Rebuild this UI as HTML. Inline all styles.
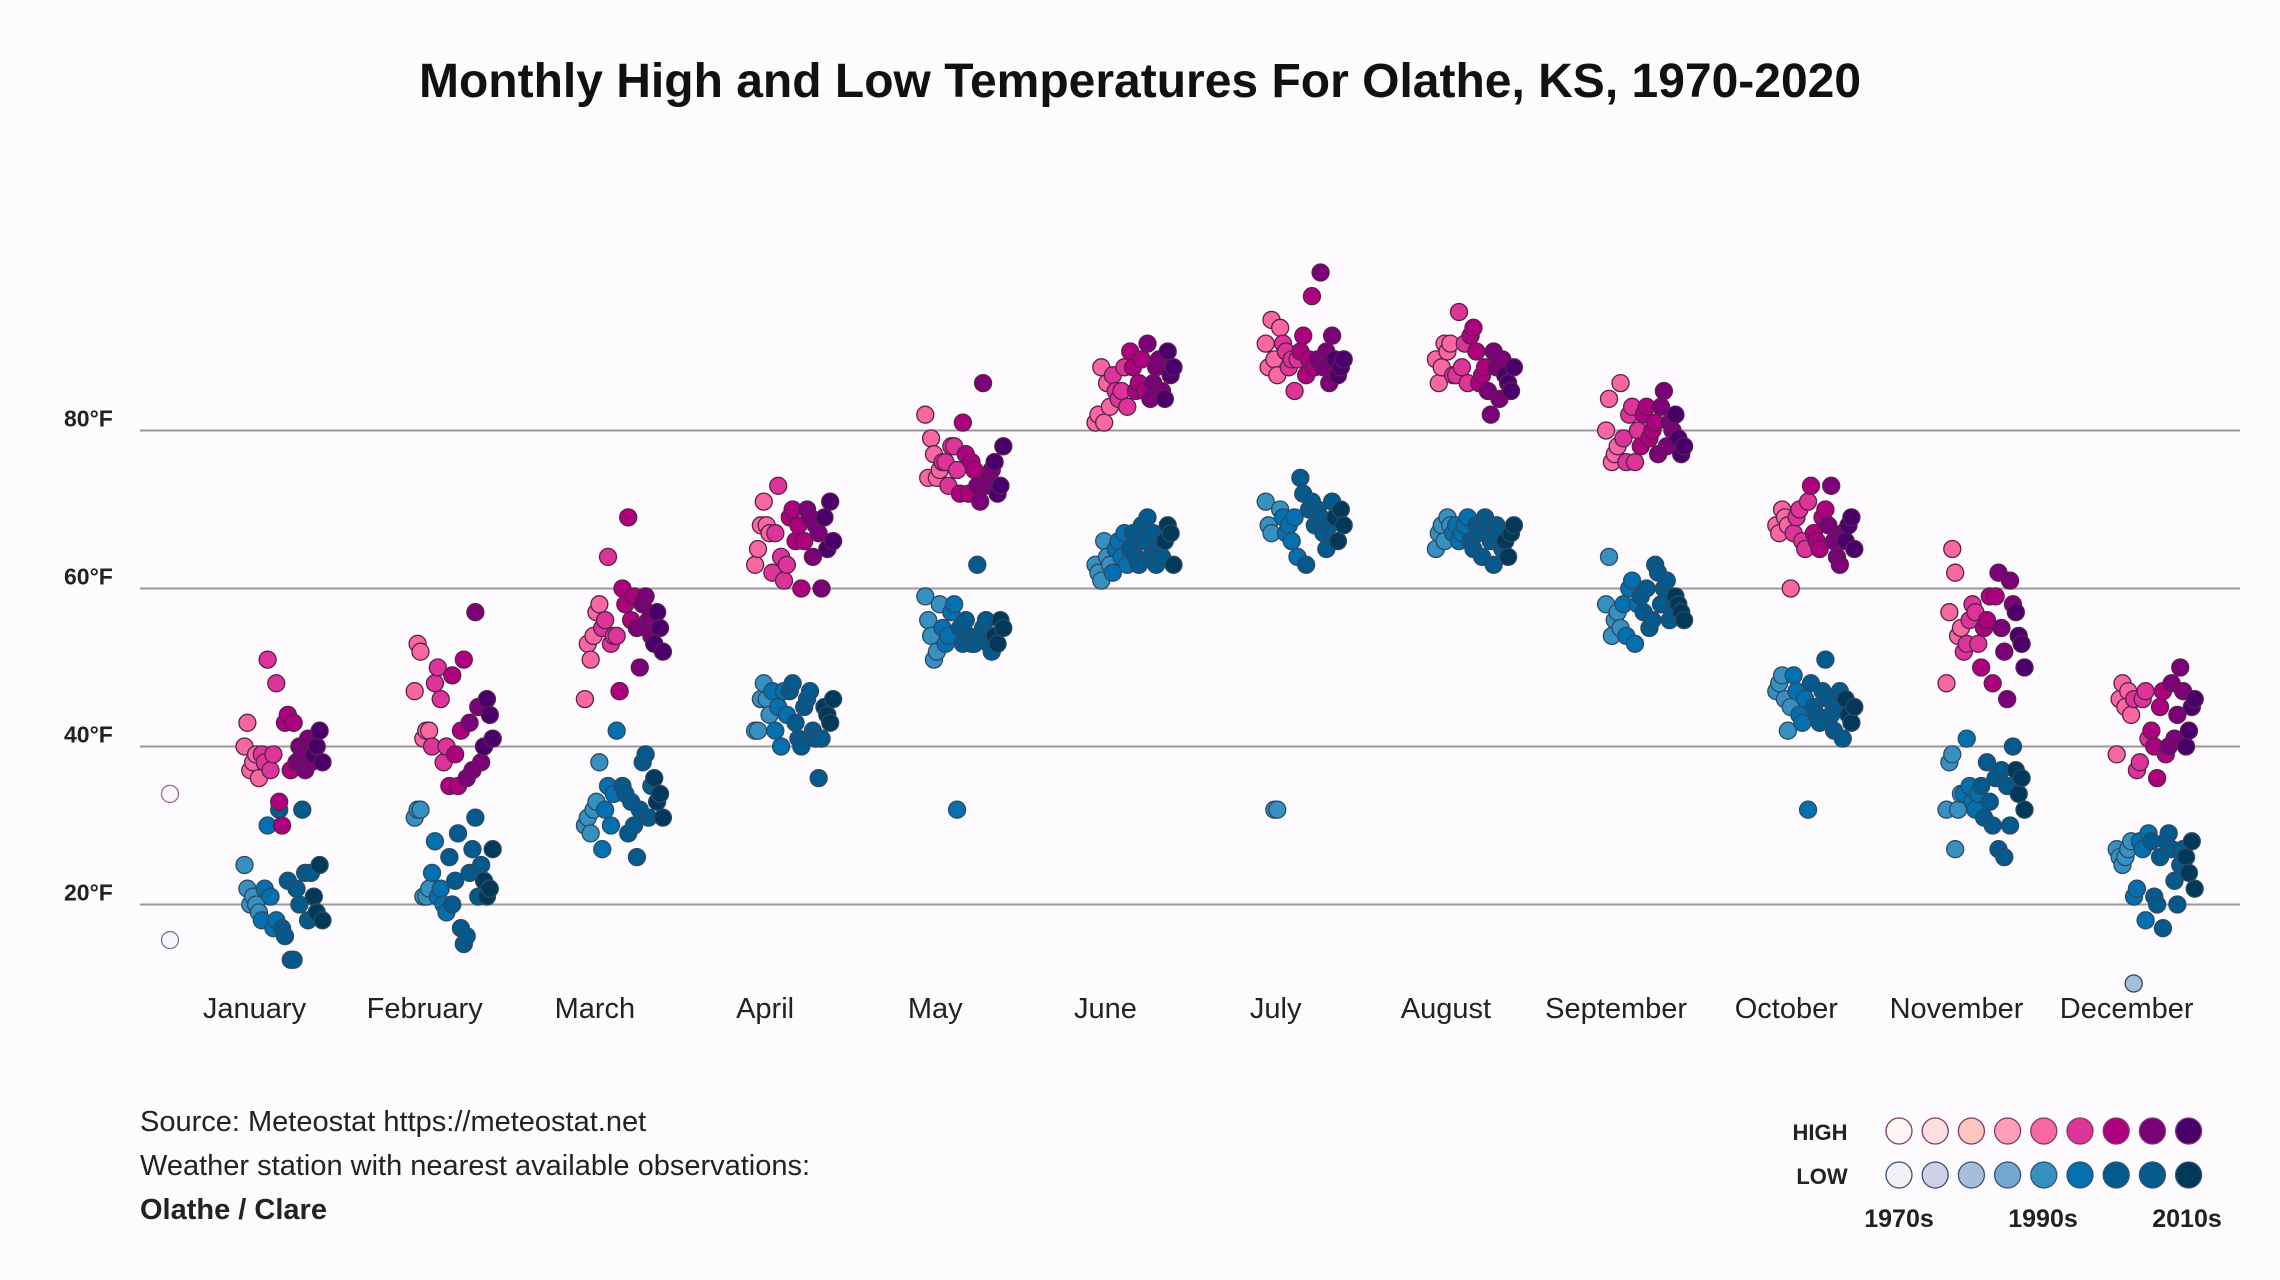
<!DOCTYPE html>
<html><head><meta charset="utf-8">
<style>
body{margin:0;background:#fdfbfd;}
svg{display:block;font-family:"Liberation Sans",sans-serif;}
</style></head>
<body>
<svg id="chart" width="2280" height="1280" viewBox="0 0 2280 1280">
<rect width="2280" height="1280" fill="#fdfbfd"/>
<text x="1140" y="97" text-anchor="middle" font-size="48" font-weight="bold" fill="#111">Monthly High and Low Temperatures For Olathe, KS, 1970-2020</text>
<g id="grid"></g>
<g id="xlabels"></g>
<g id="points"></g>
<g font-size="29" fill="#222">
<text x="140" y="1131">Source: Meteostat https://meteostat.net</text>
<text x="140" y="1175">Weather station with nearest available observations:</text>
<text x="140" y="1219" font-weight="bold">Olathe / Clare</text>
</g>
<g id="legend">
<text x="1820" y="1140" text-anchor="middle" font-size="22" font-weight="bold" fill="#222">HIGH</text>
<text x="1822" y="1184" text-anchor="middle" font-size="22" font-weight="bold" fill="#222">LOW</text>
<text x="1899" y="1227" text-anchor="middle" font-size="25" font-weight="bold" fill="#222">1970s</text>
<text x="2043" y="1227" text-anchor="middle" font-size="25" font-weight="bold" fill="#222">1990s</text>
<text x="2187" y="1227" text-anchor="middle" font-size="25" font-weight="bold" fill="#222">2010s</text>
</g>
</svg>
<script>
const months=["January","February","March","April","May","June","July","August","September","October","November","December"];
const yTicks=[20,40,60,80];
const startYear=1993;
const highs=[
[40,43,37,38,39,36,39,38,51,37,39,48,33,30,43,44,37,43,38,40,39,37,41,38,39,40,42,38],
[47,53,52,41,42,42,40,48,50,46,38,40,35,49,39,35,42,51,36,43,37,57,45,38,40,46,44,41],
[46,53,51,54,57,58,55,56,64,53,54,54,47,60,58,69,56,59,55,50,58,59,56,54,53,57,55,52],
[63,65,68,71,68,67,62,67,73,64,61,63,69,70,66,68,60,66,70,69,64,68,67,60,69,65,71,66],
[82,74,79,77,74,75,76,76,73,78,78,75,72,81,77,72,76,75,73,71,86,73,74,75,76,72,73,78],
[81,82,88,81,86,83,87,85,84,85,88,83,90,88,85,86,89,85,91,84,86,88,89,85,84,90,87,88],
[91,88,94,89,87,93,91,90,88,89,85,89,90,92,87,89,97,88,89,100,88,90,86,92,89,87,88,89],
[89,86,88,91,90,91,87,87,95,88,91,86,92,93,90,86,87,88,85,82,90,88,84,89,87,86,85,88],
[80,84,76,77,78,86,79,76,82,83,76,80,78,82,83,79,80,81,77,83,85,78,81,80,82,79,77,78],
[68,67,70,69,68,60,67,69,70,66,65,71,73,67,66,65,69,70,68,73,66,64,63,67,66,68,69,65],
[48,57,65,62,54,55,52,53,56,58,57,53,50,55,56,59,48,59,62,55,52,46,61,58,57,54,53,50],
[39,46,48,45,47,44,46,37,38,46,47,41,42,40,36,45,47,39,40,48,41,44,50,47,40,42,45,46]];
const lows=[
[25,22,20,21,20,19,18,22,30,21,17,18,32,17,16,23,13,13,22,20,32,24,18,24,21,19,25,18],
[31,32,32,21,21,22,24,28,21,22,20,19,26,20,23,29,17,15,16,24,27,31,21,25,23,21,22,27],
[30,31,29,32,33,38,27,32,35,30,34,42,47,35,34,29,33,30,26,32,38,39,31,35,36,33,34,31],
[42,42,46,48,46,44,47,42,45,40,47,44,47,48,43,41,40,45,46,47,42,41,36,41,45,44,43,46],
[59,56,54,51,52,58,55,53,54,57,58,32,55,53,56,54,53,53,63,54,55,56,53,52,54,53,56,55],
[63,62,61,66,64,63,62,65,66,64,67,63,65,67,64,63,68,66,69,64,67,63,65,64,66,68,67,63],
[71,68,67,32,32,70,69,67,68,66,69,64,74,72,63,70,71,68,70,69,67,65,68,71,69,66,70,68],
[65,67,68,66,69,68,67,68,66,67,68,69,66,65,68,67,64,69,68,66,63,68,67,65,66,64,67,68],
[58,64,54,56,57,55,58,54,60,61,53,58,59,57,60,55,56,63,62,58,60,61,56,57,59,58,57,56],
[47,48,49,46,42,45,49,47,44,43,46,32,48,45,44,43,47,51,46,44,42,45,47,41,46,44,43,45],
[32,38,39,27,32,34,34,41,35,33,32,34,35,31,38,33,30,36,27,37,26,35,30,40,37,34,36,32],
[27,26,25,26,27,28,21,22,28,27,18,29,28,21,20,26,17,28,29,27,23,20,25,27,26,24,28,22]];
const outlierHigh=[34];
const outlierLow=[15.5];
const decLowOutlier=[10];
const highPal=["#fff7f3","#fde0dd","#fcc5c0","#fa9fb5","#f768a1","#dd3497","#ae017e","#7a0177","#49006a"];
const lowPal=["#f3f1f8","#d0d1e6","#a6bddb","#74a9cf","#3690c0","#0570b0","#045a8d","#045a8d","#023858"];
const NS="http://www.w3.org/2000/svg";
const y=v=>904.5-(v-20)*7.9;
const xC=i=>254.5+i*170.2;
const xYear=(i,yr)=>xC(i)-10+(yr-startYear)*78/27;
function mk(tag,attrs,parent){const e=document.createElementNS(NS,tag);for(const k in attrs)e.setAttribute(k,attrs[k]);parent.appendChild(e);return e;}
const grid=document.getElementById('grid');
yTicks.forEach(t=>{
  const l=mk('line',{x1:140,x2:2240,y1:y(t),y2:y(t),stroke:'#999','stroke-width':2},grid);
  
  
  const tx=mk('text',{x:64,y:y(t)-4,'font-size':23,'font-weight':'bold',fill:'#222'},grid);
  tx.textContent=t+'°F';
  
  
});
const xl=document.getElementById('xlabels');
months.forEach((m,i)=>{
  const t=mk('text',{x:xC(i),y:1018,'text-anchor':'middle','font-size':29,fill:'#222'},xl);
  t.textContent=m;
  
  
});
const pts=document.getElementById('points');
function colIdx(yr){return Math.min(8,Math.round((yr-1970)/50*8));}
function dot(cx,cy,fill,stroke,name){
  const c=mk('circle',{cx:cx,cy:cy,r:8.5,fill:fill,stroke:stroke,'stroke-width':1.3},pts);
  
  
}
months.forEach((m,i)=>{
  lows[i].forEach((v,k)=>{const yr=startYear+k;dot(xYear(i,yr),y(v),lowPal[colIdx(yr)],'#2c4a66','low-point');});
  highs[i].forEach((v,k)=>{const yr=startYear+k;dot(xYear(i,yr),y(v),highPal[colIdx(yr)],'#5a2050','high-point');});
});
outlierHigh.forEach(v=>dot(170,y(v),'#fdf5f8','#9a6a94','high-outlier-point'));
outlierLow.forEach(v=>dot(170,y(v),'#f6f6fb','#6a7d96','low-outlier-point'));
decLowOutlier.forEach(v=>dot(xC(11)+7,y(v),'#a6bddb','#2c4a66','low-outlier-point'));
const lg=document.getElementById('legend');
highPal.forEach((c,i)=>{
  const e=mk('circle',{cx:1899+36.2*i,cy:1131,r:13,fill:c,stroke:'#7a3a70','stroke-width':1.3},lg);
  
  
});
lowPal.forEach((c,i)=>{
  const e=mk('circle',{cx:1899+36.2*i,cy:1175,r:13,fill:c,stroke:'#3a5070','stroke-width':1.3},lg);
  
  
});
</script>
</body></html>
